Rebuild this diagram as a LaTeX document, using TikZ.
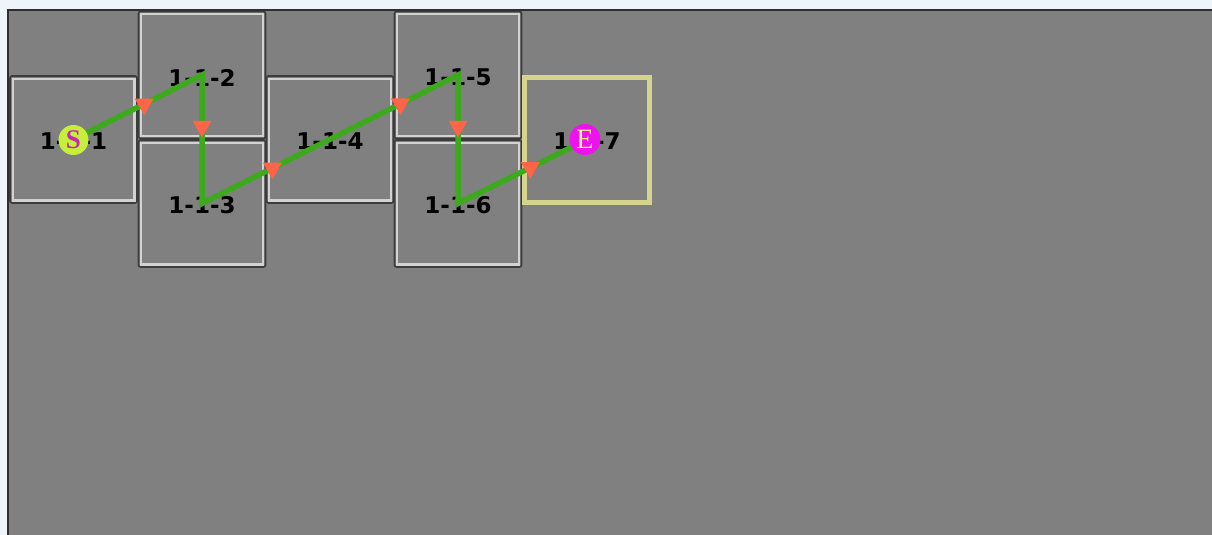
\documentclass[tikz,border=0pt]{standalone}
\usepackage{fontspec}
\setmainfont{DejaVu Sans}
\newfontfamily\serifletter{Liberation Serif}
\usetikzlibrary{shapes.geometric,calc}

\definecolor{pagebg}{HTML}{EEF4FA}
\definecolor{canvas}{HTML}{808080}
\definecolor{frameline}{HTML}{2E2E2E}
\definecolor{celledge}{HTML}{3C3C3C}
\definecolor{cellinner}{HTML}{D2D2D2}
\definecolor{goaledge}{HTML}{D4D48C}
\definecolor{routegreen}{HTML}{3DAA1E}
\definecolor{marker}{HTML}{FF6446}
\definecolor{startfill}{HTML}{C6EE3A}
\definecolor{startink}{HTML}{C22AB4}
\definecolor{endfill}{HTML}{EE12EE}
\definecolor{endink}{HTML}{F2F08A}

\tikzset{
  cell/.style={draw=celledge, line width=1.6pt, rounded corners=2pt,
    minimum width=127pt, minimum height=127pt, inner sep=0pt, fill=canvas},
  goalcell/.style={draw=goaledge, line width=5pt,
    minimum width=125pt, minimum height=125pt, inner sep=0pt, fill=canvas},
  innerrim/.style={draw=cellinner, line width=2.4pt},
  tag/.style={font=\bfseries\fontsize{23}{23}\selectfont, text=black, inner sep=0pt},
  route/.style={draw=routegreen, line width=5.5pt},
  downtri/.style={regular polygon, regular polygon sides=3, shape border rotate=180,
    fill=marker, inner sep=0pt, minimum size=22pt},
  startdot/.style={circle, fill=startfill, inner sep=0pt, minimum size=30pt,
    text=startink, font=\serifletter\bfseries\fontsize{27}{27}\selectfont},
  enddot/.style={circle, fill=endfill, inner sep=0pt, minimum size=31pt,
    text=endink, font=\serifletter\fontsize{28}{28}\selectfont},
}

\begin{document}
\begin{tikzpicture}[x=1pt,y=-1pt]
\useasboundingbox (0,0) rectangle (1212,535);
% window background and drawing canvas
\fill[pagebg] (0,0) rectangle (1212,535);
\fill[canvas] (8,10) rectangle (1212,535);
\draw[frameline, line width=2pt] (8,535) -- (8,10) -- (1212,10);

% grid cells
\node[cell] (b1) at (73.5,139.5) {};
\node[cell] (b2) at (202,75) {};
\node[cell] (b3) at (202,203.5) {};
\node[cell] (b4) at (330,139.5) {};
\node[cell] (b5) at (458,75) {};
\node[cell] (b6) at (458,203.5) {};
\node[goalcell] (b7) at (587,139.5) {};

% light inner rim of the ordinary cells
\foreach \c in {b1,b2,b3,b4,b5,b6}
  \draw[innerrim] ($(\c.north west)+(3.5,3.5)$) rectangle ($(\c.south east)+(-3.5,-3.5)$);

% cell captions
\node[tag] (l1) at ($(b1.center)+(0,2)$) {1-1-1};
\node[tag] (l2) at ($(b2.center)+(0,2.5)$) {1-1-2};
\node[tag] (l3) at ($(b3.center)+(0,2)$) {1-1-3};
\node[tag] (l4) at ($(b4.center)+(0,2)$) {1-1-4};
\node[tag] (l5) at ($(b5.center)+(0,2.5)$) {1-1-5};
\node[tag] (l6) at ($(b6.center)+(0,2)$) {1-1-6};
\node[tag] (l7) at ($(b7.center)+(0,2)$) {1-1-7};

% route through the cells with its direction markers
\path[route] (b1.center)
  -- node[downtri, pos=.55] (t1) {} (b2.center)
  -- node[downtri, pos=.40] (t2) {} (b3.center)
  -- node[downtri, pos=.275] (t3) {} node[downtri, pos=.775] (t4) {} (b5.center)
  -- node[downtri, pos=.40] (t5) {} (b6.center)
  -- node[downtri, pos=.56] (t6) {} (b7.center);

% start and end markers
\node[startdot] (s) at ($(b1.center)+(0,0.5)$) {S};
\node[enddot] (e) at ($(b7.center)+(-2,0)$) {E};
\end{tikzpicture}
\end{document}
